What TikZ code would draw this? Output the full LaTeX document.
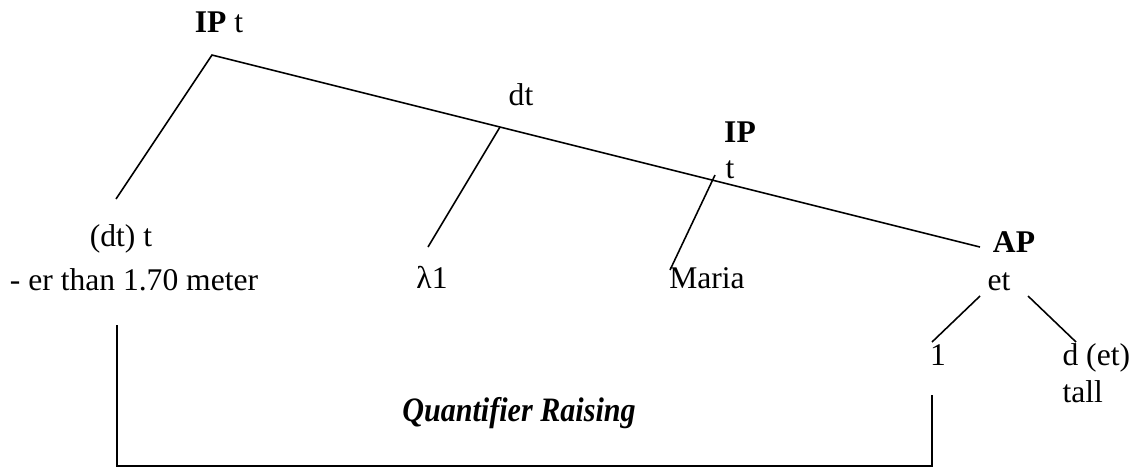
\documentclass[tikz,border=0pt]{standalone}
\usepackage{fontspec}
\setmainfont{Liberation Serif}
\usepackage{tikz}
\usetikzlibrary{positioning}
\tikzset{
  lbl/.style={inner sep=0pt, anchor=base, font=\fontsize{12}{14}\selectfont},
  lbllft/.style={lbl, anchor=base west},
  branch/.style={line width=0.6pt, color=black},
  qrline/.style={line width=0.7pt, color=black}
}
\begin{document}
\begin{tikzpicture}[x=0.38pt, y=-0.38pt]
        \useasboundingbox (0,0) rectangle (1135,468);
        % labels
        \node[lbl] (iptop) at (219,32) {\textbf{IP} t};
        \node[lbl] (dt) at (521,105) {dt};
        \node[lbl] (ipmid) at (740,142) {\textbf{IP}};
        \node[lbllft] (tmid) at (725,178) {t};
        \node[lbl] (quant) at (121,246) {(dt) t};
        \node[lbl] (erthan) at (134,290) {- er than 1.70 meter};
        \node[lbl] (lambda) at (432,288) {λ1};
        \node[lbl] (maria) at (707,288) {Maria};
        \node[lbl] (ap) at (1014,252) {\textbf{AP}};
        \node[lbl] (et) at (999,290) {et};
        \node[lbl] (one) at (938,365) {1};
        \node[lbllft] (dett) at (1062,365) {d (et)};
        \node[lbllft] (tall) at (1062,402) {tall};
        \node[lbl] (qr) at (519,421)
          {\scalebox{0.88}[1]{\fontsize{13}{15}\selectfont\bfseries\itshape Quantifier Raising}};
        % branch points
        \coordinate (root) at (212,55);
        \coordinate (qend) at (116,199);
        \coordinate (apend) at (980,247);
        \coordinate (dtnode) at (500,127);
        \coordinate (lend) at (428,247);
        \coordinate (ipnode) at (715,175);
        \coordinate (mend) at (670,270);
        \coordinate (etl) at (980,296);
        \coordinate (onetop) at (932,342);
        \coordinate (etr) at (1028,296);
        \coordinate (dtop) at (1076,342);
        \draw[branch] (qend) -- (root) -- (apend);
        \draw[branch] (dtnode) -- (lend);
        \draw[branch] (ipnode) -- (mend);
        \draw[branch] (etl) -- (onetop);
        \draw[branch] (etr) -- (dtop);
        % movement bracket
        \coordinate (qrl) at (117,325);
        \coordinate (qrr) at (932,395);
        \draw[qrline] (qrl) -- (117,466) -- (932,466) -- (qrr);
\end{tikzpicture}
\end{document}
